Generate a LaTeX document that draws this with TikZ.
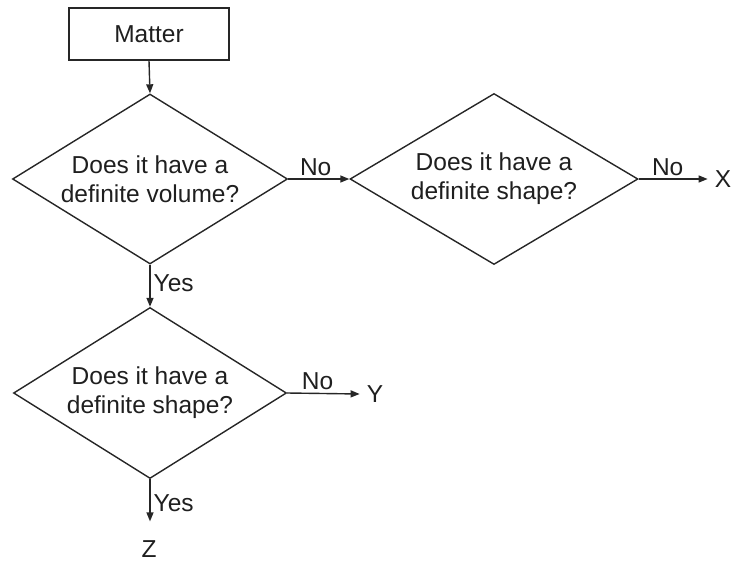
\documentclass[tikz,border=0pt]{standalone}
\usepackage{fontspec}
\setmainfont{Liberation Sans}
\usetikzlibrary{shapes.geometric,arrows.meta}
\begin{document}
\begin{tikzpicture}[x=1pt,y=-1pt,
  every node/.style={font=\fontsize{24.5}{29}\selectfont, text=black!88},
  conn/.style={draw=black!85, line width=1.4pt, -{Triangle[length=9pt,width=7pt]}},
  box/.style={draw=black!85, line width=1.4pt, rectangle, minimum width=160pt, minimum height=52pt, inner sep=0pt},
  decision/.style={draw=black!85, line width=1.4pt, diamond, inner sep=0pt},
  dtext/.style={align=center, inner sep=0pt},
  endpt/.style={inner sep=7pt},
  lab/.style={inner sep=3pt}]
\useasboundingbox (0,0) rectangle (733,562);
\node[box] (matter) at (149,34) {Matter};
\node[decision, minimum width=275pt, minimum height=170pt,
  label={[dtext]center:Does it have a\\definite volume?}] (d1) at (150,179) {};
\node[decision, minimum width=288pt, minimum height=171pt,
  label={[dtext]center:Does it have a\\definite shape?}] (d2) at (494,179) {};
\node[decision, minimum width=273pt, minimum height=171pt,
  label={[dtext]center:Does it have a\\definite shape?}] (d3) at (150,393) {};
\node[endpt] (X) at (723,179) {X};
\node[endpt] (Y) at (375,394) {Y};
\node[endpt] (Z) at (149,549) {Z};
\draw[conn] (matter.south) -- (d1.north);
\draw[conn] (d1.east) -- node[lab, above, pos=0.45] {No} (d2.west);
\draw[conn] (d2.east) -- node[lab, above, pos=0.42] {No} (X.west);
\draw[conn] (d1.south) -- node[lab, right, pos=0.45] {Yes} (d3.north);
\draw[conn] (d3.east) -- node[lab, above, pos=0.42] {No} (Y.west);
\draw[conn, shorten >=12pt] (d3.south) -- node[lab, right, pos=0.45] {Yes} (d3.south |- Z.north);
\end{tikzpicture}
\end{document}
